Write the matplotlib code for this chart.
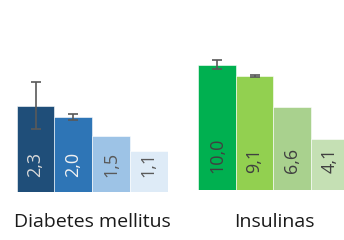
import matplotlib
matplotlib.use("Agg")
import matplotlib.pyplot as plt

plt.rcParams["font.family"] = ["Open Sans", "DejaVu Sans"]

# data
dm_values = [2.3, 2.0, 1.5, 1.1]
dm_errors = [0.62, 0.08, 0, 0]
dm_labels = ["2,3", "2,0", "1,5", "1,1"]
dm_colors = ["#1F4E79", "#2E75B6", "#9DC3E6", "#DEEBF7"]
dm_text = ["#D9D9D9", "#F2F2F2", "#595959", "#595959"]

ins_values = [10.0, 9.1, 6.6, 4.1]
ins_errors = [0.37, 0.07, 0, 0]
ins_labels = ["10,0", "9,1", "6,6", "4,1"]
ins_colors = ["#00B050", "#92D050", "#A9D18E", "#C5E0B4"]
ins_text = ["#404040", "#404040", "#404040", "#404040"]

categories = ["Diabetes mellitus", "Insulinas"]

W, H = 344, 240
fig = plt.figure(figsize=(W / 100, H / 100), dpi=100)


def panel(rect, values, errors, labels, colors, tcolors, ymax, lift):
    ax = fig.add_axes(rect)
    x = range(len(values))
    ax.bar(x, values, width=1.0, color=colors, edgecolor="white", linewidth=0.4)
    for i, (v, e) in enumerate(zip(values, errors)):
        if e > 0:
            ax.errorbar(i, v, yerr=e, color="#595959", capsize=3.5,
                        elinewidth=1.2, capthick=1.2)
        ax.annotate(labels[i], xy=(i, 0), xytext=(0, lift),
                    textcoords="offset pixels", rotation=90, ha="center",
                    va="bottom", fontsize=13, color=tcolors[i])
    ax.set_xlim(-0.5, len(values) - 0.5)
    ax.set_ylim(0, ymax)
    ax.axis("off")
    return ax


# Diabetes mellitus: base at y=192 px, ~37.7 px per unit
panel([16.7 / W, 1 - 192.3 / H, 151 / W, 3.0 * 37.7 / H],
      dm_values, dm_errors, dm_labels, dm_colors, dm_text, 3.0, 15)
# Insulinas: base at y=190 px, ~12.5 px per unit
panel([198.3 / W, 1 - 190 / H, 150 / W, 12 * 12.55 / H],
      ins_values, ins_errors, ins_labels, ins_colors, ins_text, 12, 17)

fig.text(92.5 / W, 1 - 227 / H, categories[0], ha="center", va="baseline",
         fontsize=14, color="#1a1a1a")
fig.text(274 / W, 1 - 227 / H, categories[1], ha="center", va="baseline",
         fontsize=14, color="#1a1a1a")

fig.savefig("out.png", dpi=100)
